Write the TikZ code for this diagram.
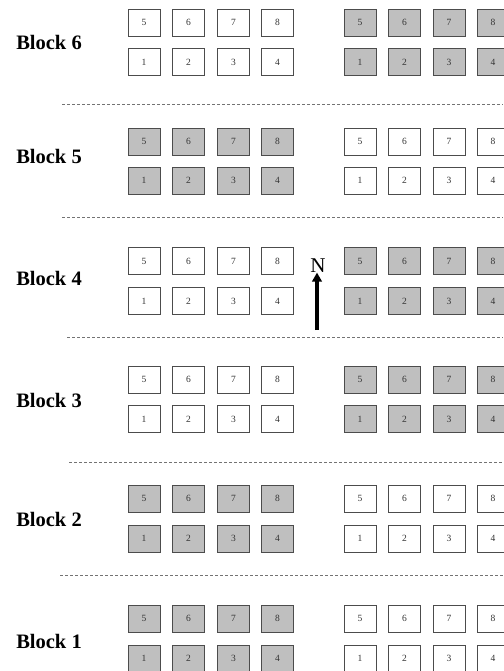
\documentclass[tikz,border=0pt]{standalone}
\usepackage{fontspec}
\setmainfont{Liberation Serif}
\usetikzlibrary{arrows.meta}
\begin{document}
\begin{tikzpicture}[x=1pt,y=-1pt,
  plotbox/.style={draw=black!70, line width=0.8pt, minimum width=32pt, minimum height=27pt, inner sep=0pt, font=\fontsize{9.5}{10}\selectfont, text=black!80},
  blocklabel/.style={font=\fontsize{20.5}{22}\selectfont\bfseries, inner sep=0pt},
  sep/.style={draw=black!55, dash pattern=on 3pt off 2pt, line width=0.8pt}]
\useasboundingbox (0,0) rectangle (503,671);
\foreach \b/\yt/\yb/\ly/\lf/\rf in {6/22.5/62/42/white/black!25, 5/141.5/180.5/156/black!25/white, 4/261/301/278/white/black!25, 3/379.5/419/400/white/black!25, 2/498.5/538.5/519/black!25/white, 1/618.5/658.5/641/black!25/white}{
  \node[blocklabel] (label\b) at (49,\ly) {Block \b};
  \foreach \i/\xl/\xr in {1/144/360, 2/188.5/404.5, 3/233.5/449, 4/277.5/493}{
    \pgfmathtruncatemacro\j{\i+4}
    \node[plotbox, fill=\lf] (L\b t\i) at (\xl,\yt) {\j};
    \node[plotbox, fill=\lf] (L\b b\i) at (\xl,\yb) {\i};
    \node[plotbox, fill=\rf] (R\b t\i) at (\xr,\yt) {\j};
    \node[plotbox, fill=\rf] (R\b b\i) at (\xr,\yb) {\i};
  }
}
\foreach \y/\x in {104/62, 217/62, 337/67, 462/69, 575/60}{
  \draw[sep] (\x,\y) -- (503,\y);
}
\node[font=\fontsize{21}{22}\selectfont, inner sep=0pt] (north) at (318,265.5) {N};
\coordinate (arrowtail) at (317,330);
\draw[line width=3.3pt, -{Triangle[length=9pt,width=9.5pt]}] (arrowtail) -- (north.south -| arrowtail);
\end{tikzpicture}
\end{document}
